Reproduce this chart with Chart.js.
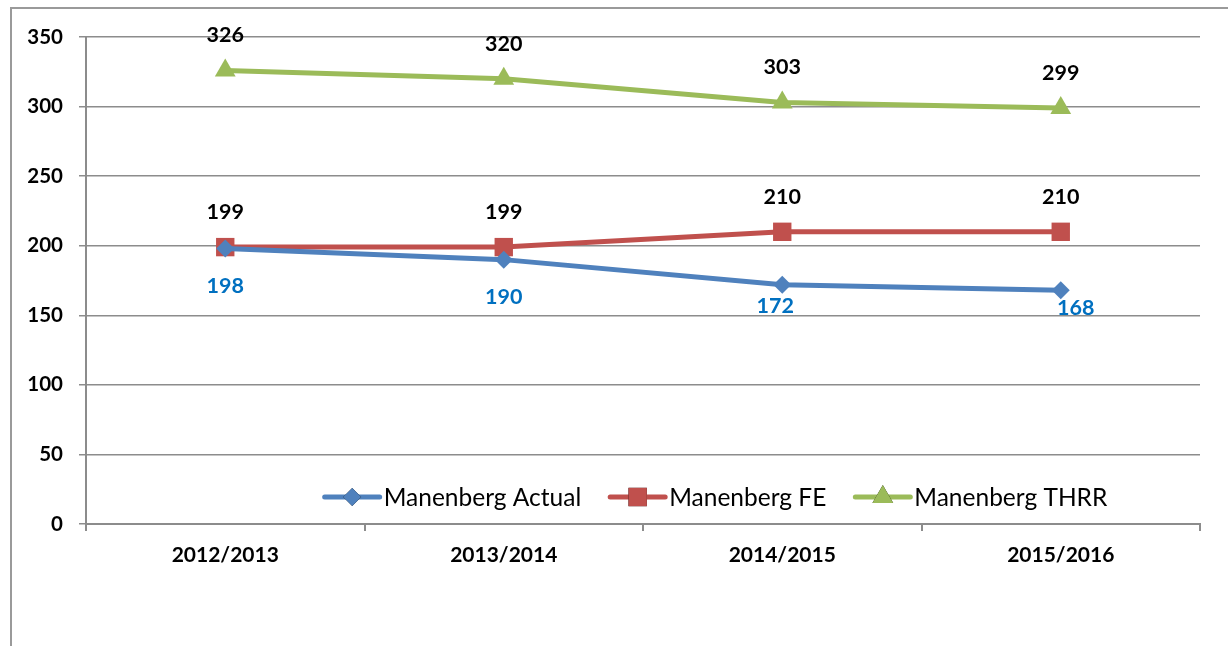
<!DOCTYPE html>
<html>
<head>
<meta charset="utf-8">
<script src="https://cdn.jsdelivr.net/npm/chart.js@4/dist/chart.umd.min.js"></script>
<style>
  html, body { margin: 0; padding: 0; background: #fff; }
  #wrap { position: relative; width: 1228px; height: 646px; overflow: hidden; }
  #frame { position: absolute; left: 10px; top: 7px; width: 1300px; height: 700px;
           border-top: 2px solid #9a9a9a; border-left: 2px solid #9a9a9a; box-sizing: border-box; }
  canvas { position: absolute; left: 0; top: 0; }
</style>
</head>
<body>
<div id="wrap">
  <div id="frame"></div>
  <canvas id="chart" width="1228" height="646"></canvas>
</div>
<script>
  // chart data
  const years = ['2012/2013', '2013/2014', '2014/2015', '2015/2016'];
  const actual = [198, 190, 172, 168];
  const fe = [199, 199, 210, 210];
  const thrr = [326, 320, 303, 299];
  const yTicks = [0, 50, 100, 150, 200, 250, 300, 350];

  const FONT = 'Lato, "Open Sans", sans-serif';
  const gridGray = '#8c8c8c';

  // small nudges for the blue labels (Excel placed them by hand)
  const actualLabelShift = [[0, 38], [0, 37], [-7, 21], [15, 18]];

  // value labels drawn next to each point
  const valueLabels = {
    id: 'valueLabels',
    afterDatasetsDraw(chart) {
      const ctx = chart.ctx;
      ctx.save();
      ctx.textAlign = 'center';
      ctx.textBaseline = 'middle';
      chart.data.datasets.forEach((ds, i) => {
        const meta = chart.getDatasetMeta(i);
        meta.data.forEach((pt, j) => {
          let dx = 0, dy = -35;
          if (ds.label === 'Manenberg Actual') {
            dx = actualLabelShift[j][0];
            dy = actualLabelShift[j][1];
          }
          ctx.fillStyle = ds.labelColor;
          ctx.font = 'bold 21.5px ' + FONT;
          ctx.fillText(ds.data[j], pt.x + dx, pt.y + dy);
        });
      });
      ctx.restore();
    }
  };

  // legend sitting inside the plot, like the Excel one
  const innerLegend = {
    id: 'innerLegend',
    afterDraw(chart, args, opts) {
      const ctx = chart.ctx;
      ctx.save();
      ctx.font = '24.5px ' + FONT;
      ctx.textBaseline = 'middle';
      const lineLen = 55, gapText = 4, gapItem = 29;
      const items = chart.data.datasets.map(ds => ({ ds, w: lineLen + gapText + ctx.measureText(ds.label).width }));
      const total = items.reduce((s, it) => s + it.w, 0) + gapItem * (items.length - 1);
      let x = opts.centerX - total / 2;
      const y = opts.y;
      items.forEach(it => {
        const ds = it.ds;
        ctx.strokeStyle = ds.borderColor;
        ctx.lineWidth = 5;
        ctx.lineCap = 'round';
        ctx.beginPath();
        ctx.moveTo(x, y);
        ctx.lineTo(x + lineLen, y);
        ctx.stroke();
        Chart.helpers.drawPoint(ctx, {
          pointStyle: ds.pointStyle, radius: ds.pointRadius, rotation: 0, borderWidth: 0
        }, x + lineLen / 2, y);
        ctx.fillStyle = ds.pointBackgroundColor;
        ctx.fill();
        ctx.fillStyle = '#000';
        ctx.fillText(ds.label, x + lineLen + gapText, y + 1);
        x += it.w + gapItem;
      });
      ctx.restore();
    }
  };

  const ctx = document.getElementById('chart').getContext('2d');
  new Chart(ctx, {
    type: 'line',
    data: {
      labels: years,
      datasets: [{
        label: 'Manenberg Actual',
        data: actual,
        borderColor: '#4f81bd',
        pointBackgroundColor: '#4f81bd',
        pointBorderWidth: 0,
        pointStyle: 'rectRot',
        pointRadius: 9,
        borderWidth: 5,
        labelColor: '#0070c0'
      }, {
        label: 'Manenberg FE',
        data: fe,
        borderColor: '#c0504d',
        pointBackgroundColor: '#c0504d',
        pointBorderWidth: 0,
        pointStyle: 'rect',
        pointRadius: 13,
        borderWidth: 5,
        labelColor: '#000'
      }, {
        label: 'Manenberg THRR',
        data: thrr,
        borderColor: '#9bbb59',
        pointBackgroundColor: '#9bbb59',
        pointBorderWidth: 0,
        pointStyle: 'triangle',
        pointRadius: 12,
        borderWidth: 5,
        labelColor: '#000'
      }]
    },
    options: {
      responsive: false,
      animation: false,
      layout: { padding: { top: 37, right: 28, left: 0, bottom: 0 } },
      plugins: {
        legend: { display: false },
        tooltip: { enabled: false },
        innerLegend: { centerX: 716, y: 497 }
      },
      scales: {
        x: {
          offset: true,
          grid: { offset: true, drawOnChartArea: false, drawTicks: true, tickLength: 7, color: gridGray, lineWidth: 2 },
          border: { color: gridGray, width: 2 },
          ticks: { color: '#000', font: { family: FONT, size: 21, weight: 'bold' }, padding: 12 },
          afterFit(axis) { axis.height = 122; }
        },
        y: {
          min: 0,
          max: 350,
          afterBuildTicks(axis) { axis.ticks = yTicks.map(v => ({ value: v })); },
          grid: { color: gridGray, lineWidth: 1.5, tickLength: 7 },
          border: { color: gridGray, width: 2 },
          ticks: { color: '#000', font: { family: FONT, size: 20.5, weight: 'bold' }, padding: 16 },
          afterFit(axis) { axis.width = 86; }
        }
      }
    },
    plugins: [valueLabels, innerLegend]
  });
</script>
</body>
</html>
